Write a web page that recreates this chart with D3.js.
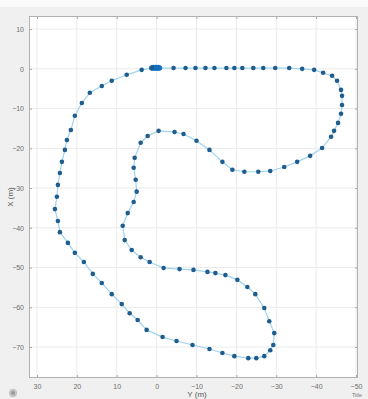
<!DOCTYPE html>
<html>
<head>
<meta charset="utf-8">
<script src="https://cdn.jsdelivr.net/npm/d3@7"></script>
<style>
  html, body { margin: 0; padding: 0; background: #f0f0f0; }
  svg { display: block; font-family: "Liberation Sans", Arial, sans-serif; }
</style>
</head>
<body>
<div id="chart"></div>
<script>
// Track samples (Y on the horizontal axis, X on the vertical)
const trackY = [
  1.2, 0.8, 0.5, 0.2, -0.1, -0.4, -0.7,
  -4.25, -7.25, -9.75, -12.25, -14.5, -17.5, -19.5, -21.5, -24.25, -26.75, -29.75, -33.25,
  -36.5, -39.5, -41.75, -44, -45.25, -46.25, -46.5, -46.5, -46.25, -45.5, -44.5, -43.75,
  -41.5, -38.5, -35.25, -32, -28.5, -25.5, -22, -19, -16.5, -13.25, -10, -6.75, -4.5,
  -0.5, 2.25, 4, 5.5, 5.75, 5.25, 5, 5.75, 7.25, 8.5, 8, 6.25, 4, 1.75, -1.75, -5.75,
  -9.25, -12.75, -14.75, -17.25, -20.25, -22.75, -24.75, -27, -28.25, -29.5, -29.25,
  -28.5, -27, -25, -23, -19.5, -16.5, -13.25, -9, -5, -1.5, 2.5, 4.75, 6.75, 8.75,
  11.25, 13.75, 16, 18.25, 20.5, 22.25, 24.25, 24.75, 25.5, 25, 24.75, 24.25, 23.75,
  23, 22.5, 21.5, 20.5, 18.75, 16.75, 13.75, 11.25, 7.5, 3.75, 1.2
];
const trackX = [
  0.2, 0.3, 0.2, 0.3, 0.2, 0.3, 0.2,
  0.2, 0.2, 0.2, 0.2, 0.2, 0.2, 0.2, 0.2, 0.2, 0.2, 0.2, 0.2,
  0, -0.25, -1, -1.75, -3, -5.3, -6.8, -9.1, -11.3, -13.6, -15.6, -17.1,
  -19.9, -21.9, -23.4, -24.7, -25.7, -25.9, -25.9, -25.4, -23.4, -20.4, -18.1, -16.4, -15.9,
  -15.6, -16.9, -18.6, -22.4, -24.9, -27.9, -30.9, -33.5, -36.3, -39.5, -43.1, -45.6, -47.4, -48.6, -50.1, -50.4,
  -50.6, -51.1, -51.4, -51.9, -53.1, -54.9, -56.7, -60.2, -63.5, -66.5, -69.5,
  -70.8, -72.3, -72.8, -72.8, -72.3, -71.5, -70.5, -69.5, -68.5, -67.5, -65.7, -63.2, -61.5, -59.2,
  -56.7, -53.9, -51.6, -48.6, -46.3, -43.8, -41.1, -38.3, -35.3, -32.2, -29.2, -26.2, -23.4,
  -20.4, -17.9, -15.4, -11.8, -8.6, -6.0, -4.3, -3.0, -1.5, -0.25, 0.2
];
const startCount = 7; // samples bunched at the start point

const xTicks = [30, 20, 10, 0, -10, -20, -30, -40, -50];
const yTicks = [10, 0, -10, -20, -30, -40, -50, -60, -70];

const width = 368, height = 399;
const box = { left: 29, top: 16, right: 358, bottom: 378 };

const svg = d3.select('#chart').append('svg')
  .attr('width', width)
  .attr('height', height);

svg.append('rect').attr('width', width).attr('height', height).attr('fill', '#f0f0f0');
svg.append('rect').attr('width', width).attr('height', 7).attr('fill', '#fafafa');

// Scales: horizontal axis is reversed (positive Y on the left)
const x = d3.scaleLinear().domain([32, -50.5]).range([box.left, box.right]);
const y = d3.scaleLinear().domain([13.3, -77.8]).range([box.top, box.bottom]);

// Plot area
svg.append('rect')
  .attr('x', box.left).attr('y', box.top)
  .attr('width', box.right - box.left).attr('height', box.bottom - box.top)
  .attr('fill', '#ffffff');

// Grid
svg.append('g').selectAll('line').data(xTicks).join('line')
  .attr('x1', d => x(d)).attr('x2', d => x(d))
  .attr('y1', box.top).attr('y2', box.bottom)
  .attr('stroke', '#ebebeb').attr('stroke-width', 1);
svg.append('g').selectAll('line').data(yTicks).join('line')
  .attr('x1', box.left).attr('x2', box.right)
  .attr('y1', d => y(d)).attr('y2', d => y(d))
  .attr('stroke', '#ebebeb').attr('stroke-width', 1);

// Axes, ticks pointing inwards like MATLAB
function styleAxis(g) {
  g.select('.domain').remove();
  g.selectAll('.tick line').attr('stroke', '#a8a8a8');
  g.selectAll('.tick text').attr('fill', '#6e6e6e').attr('font-size', 7);
}
svg.append('g')
  .attr('transform', 'translate(0,' + box.bottom + ')')
  .call(d3.axisBottom(x).tickValues(xTicks).tickSizeInner(-3).tickSizeOuter(0).tickPadding(6))
  .call(styleAxis);
svg.append('g')
  .attr('transform', 'translate(0,' + box.top + ')')
  .call(d3.axisTop(x).tickValues(xTicks).tickSizeInner(-3).tickSizeOuter(0).tickFormat(''))
  .call(styleAxis);
svg.append('g')
  .attr('transform', 'translate(' + box.left + ',0)')
  .call(d3.axisLeft(y).tickValues(yTicks).tickSizeInner(-3).tickSizeOuter(0).tickPadding(5))
  .call(styleAxis);
svg.append('g')
  .attr('transform', 'translate(' + box.right + ',0)')
  .call(d3.axisRight(y).tickValues(yTicks).tickSizeInner(-3).tickSizeOuter(0).tickFormat(''))
  .call(styleAxis);

svg.append('rect')
  .attr('x', box.left + 0.5).attr('y', box.top + 0.5)
  .attr('width', box.right - box.left - 1).attr('height', box.bottom - box.top - 1)
  .attr('fill', 'none').attr('stroke', '#b0b0b0');

// Track line and markers
const pts = trackY.map((v, i) => [v, trackX[i]]);
const trackLine = d3.line().x(d => x(d[0])).y(d => y(d[1]));

svg.append('path')
  .datum(pts)
  .attr('d', trackLine)
  .attr('fill', 'none')
  .attr('stroke', '#9fd3ee')
  .attr('stroke-width', 1.2);

svg.append('g').selectAll('circle').data(pts).join('circle')
  .attr('cx', d => x(d[0]))
  .attr('cy', d => y(d[1]))
  .attr('r', (d, i) => i < startCount ? 2.8 : 2.3)
  .attr('fill', (d, i) => i < startCount ? '#1470bd' : '#1f5d8f');

// Labels
svg.append('text')
  .attr('transform', 'translate(13,197) rotate(-90)')
  .attr('text-anchor', 'middle')
  .attr('font-size', 8).attr('fill', '#555')
  .text('X (m)');
svg.append('text')
  .attr('x', 197).attr('y', 397)
  .attr('text-anchor', 'middle')
  .attr('font-size', 8).attr('fill', '#555')
  .text('Y (m)');
svg.append('text')
  .attr('x', 357).attr('y', 397)
  .attr('text-anchor', 'middle')
  .attr('font-size', 5.5).attr('fill', '#777')
  .text('Title');

// small toolbar icon in the corner
svg.append('circle').attr('cx', 13).attr('cy', 393).attr('r', 4.2).attr('fill', '#c4c4c4');
svg.append('circle').attr('cx', 13).attr('cy', 393).attr('r', 2).attr('fill', '#9a9a9a');
</script>
</body>
</html>
